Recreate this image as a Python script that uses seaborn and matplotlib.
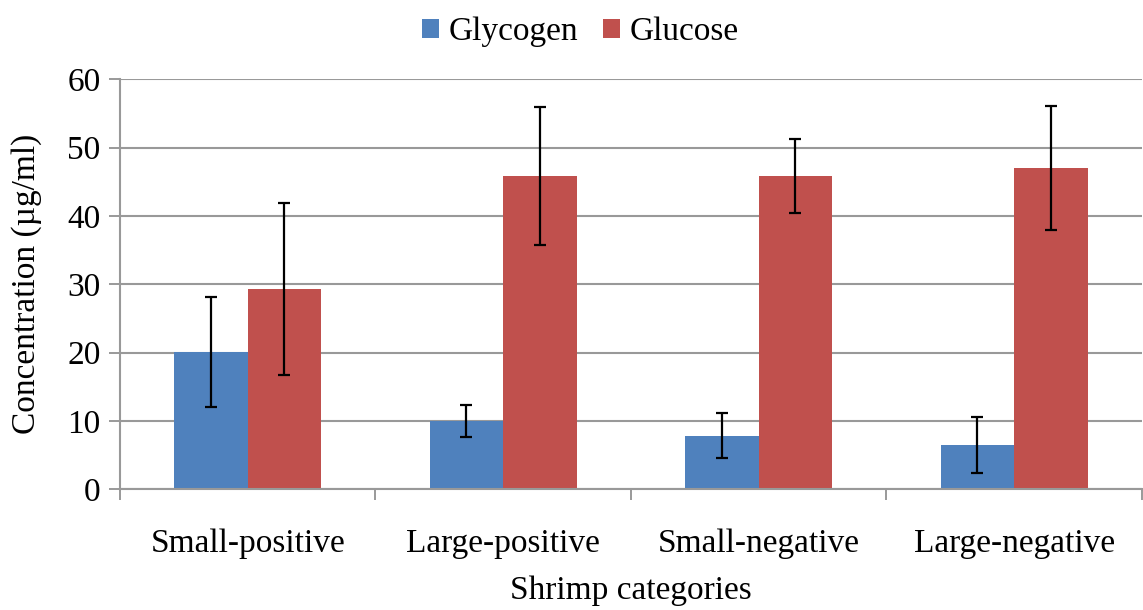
import pandas as pd
import numpy as np
import matplotlib
matplotlib.use("Agg")
import matplotlib.pyplot as plt
import seaborn as sns

# Values
categories = ["Small-positive", "Large-positive", "Small-negative", "Large-negative"]
glycogen = [20.1, 10.0, 7.8, 6.5]
glycogen_err = [8.1, 2.4, 3.3, 4.1]
glucose = [29.3, 45.9, 45.8, 47.0]
glucose_err = [12.6, 10.1, 5.4, 9.1]

df = pd.DataFrame({
    "category": categories * 2,
    "value": glycogen + glucose,
    "err": glycogen_err + glucose_err,
    "series": ["Glycogen"] * 4 + ["Glucose"] * 4,
})

sns.set_style("white")
plt.rcParams["font.family"] = ["Liberation Serif", "DejaVu Serif"]
plt.rcParams["text.color"] = "black"
plt.rcParams["axes.labelcolor"] = "black"
plt.rcParams["xtick.color"] = "black"
plt.rcParams["ytick.color"] = "black"

fig = plt.figure(figsize=(11.43, 6.1), dpi=100)
ax = fig.add_axes([0.105, 0.198, 0.894, 0.672])

palette = {"Glycogen": "#4f81bd", "Glucose": "#c0504d"}
sns.barplot(data=df, x="category", y="value", hue="series", palette=palette,
            width=0.575, gap=0, saturation=1, errorbar=None, linewidth=0,
            ax=ax, zorder=2)

# error bars at the bar centres
for cont, name in zip(ax.containers, ["Glycogen", "Glucose"]):
    sub = df[df["series"] == name]
    xs = [p.get_x() + p.get_width() / 2 for p in cont.patches]
    ax.errorbar(xs, sub["value"].values, yerr=sub["err"].values, fmt="none",
                ecolor="black", elinewidth=1.6, capsize=4, capthick=1.6, zorder=3)

ax.set_ylim(0, 60)
ax.set_xlim(-0.5, 3.5)
ax.set_yticks(range(0, 61, 10))
ax.yaxis.grid(True, color="#999999", linewidth=1.5, zorder=0)
ax.set_axisbelow(True)

# category boundary ticks
ax.set_xticks([-0.5, 0.5, 1.5, 2.5, 3.5], minor=False)
ax.set_xticklabels([])
ax.set_xticks(range(4), minor=True)
ax.set_xticklabels(categories, minor=True, fontsize=24)
ax.tick_params(axis="x", which="major", bottom=True, length=8, width=1.2,
               color="#888888", direction="out")
ax.tick_params(axis="x", which="minor", bottom=True, length=0, pad=28)
ax.tick_params(axis="y", left=True, length=8, width=1.2, color="#888888",
               labelcolor="black", labelsize=24, direction="out", pad=6)

for s in ["top", "right"]:
    ax.spines[s].set_visible(False)
for s in ["left", "bottom"]:
    ax.spines[s].set_color("#999999")
    ax.spines[s].set_linewidth(1.5)

ax.set_xlabel("Shrimp categories", fontsize=24, labelpad=12)
ax.set_ylabel("Concentration (\u00b5g/ml)", fontsize=24, labelpad=18)

handles, labels = ax.get_legend_handles_labels()
ax.get_legend().remove()
fig.legend(handles, labels, loc="upper center", bbox_to_anchor=(0.508, 1.0), ncol=2,
           frameon=False, fontsize=24, handlelength=0.5, handleheight=0.5,
           handletextpad=0.3, columnspacing=0.75, borderaxespad=0.1)

plt.savefig("out.png", dpi=100)
